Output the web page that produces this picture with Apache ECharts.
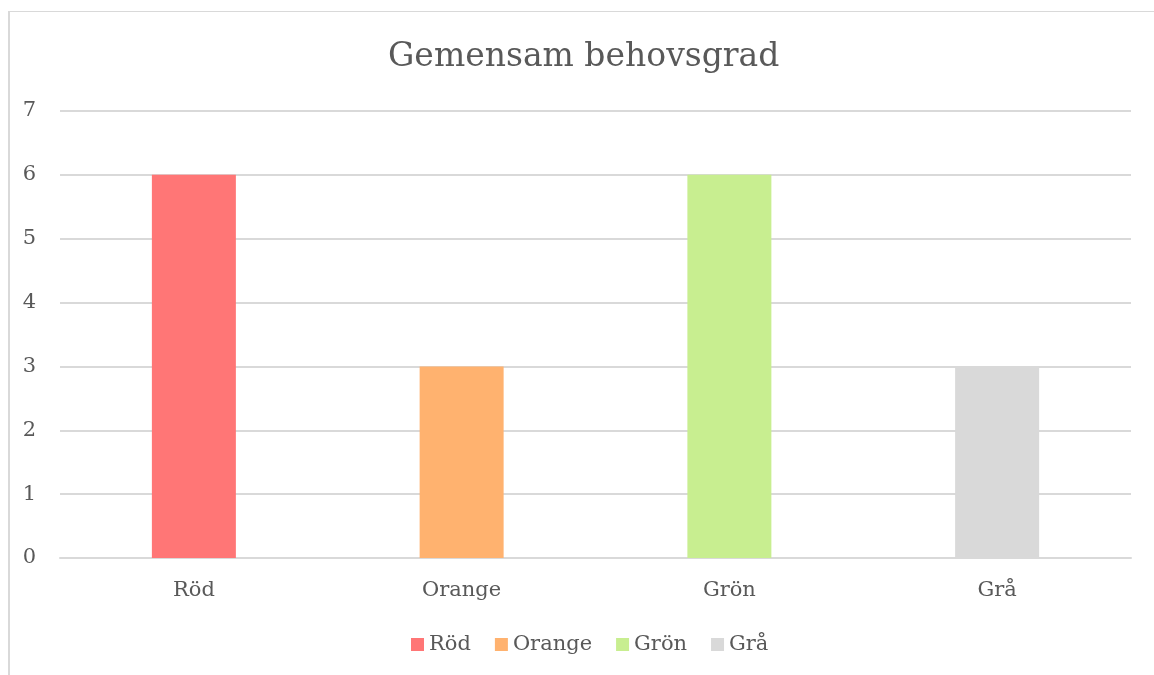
<!DOCTYPE html>
<html>
<head>
<meta charset="utf-8">
<script src="https://cdn.jsdelivr.net/npm/echarts@6/dist/echarts.min.js"></script>
<style>
  html, body { margin: 0; padding: 0; background: #fff; }
  .frame {
    position: absolute;
    left: 8px;
    top: 11px;
    width: 1200px;
    height: 700px;
    border-left: 2px solid #d9d9d9;
    border-top: 1px solid #d9d9d9;
  }
  #chart { position: absolute; left: 0; top: 0; width: 1154px; height: 675px; }
</style>
</head>
<body>
<div class="frame"></div>
<div id="chart"></div>
<script>
// 数据
const categories = ['Röd', 'Orange', 'Grön', 'Grå']
const values = [6, 3, 6, 3]
const colors = ['#ff7676', '#ffb26f', '#c8ee90', '#d9d9d9']
const yTicks = [0, 7, 1] // min, max, interval

const FONT = 'DejaVu Serif'
const TEXT = '#595959'

const myChart = echarts.init(document.getElementById('chart'))

// 每个类别一个系列，堆叠后对齐到自己的位置
const series = categories.map((name, i) => ({
  name,
  type: 'bar',
  stack: 'all',
  barWidth: 84,
  itemStyle: { color: colors[i] },
  data: categories.map((c, j) => (j === i ? values[i] : null)),
}))

const option = {
  animation: false,
  title: {
    text: 'Gemensam behovsgrad',
    left: 383,
    top: 36,
    textStyle: {
      fontFamily: FONT,
      fontSize: 33,
      fontWeight: 'normal',
      color: TEXT,
    },
  },
  grid: {
    left: 60,
    right: 23,
    top: 111,
    bottom: 117,
  },
  legend: {
    bottom: 15,
    left: 406,
    icon: 'rect',
    itemWidth: 13,
    itemHeight: 13,
    itemGap: 24,
    textStyle: { fontFamily: FONT, fontSize: 21, color: TEXT },
    data: categories,
  },
  xAxis: {
    type: 'category',
    data: categories,
    axisTick: { show: false },
    axisLine: { lineStyle: { color: '#d9d9d9', width: 2 } },
    axisLabel: { fontFamily: FONT, fontSize: 21, color: TEXT, margin: 22 },
  },
  yAxis: {
    type: 'value',
    min: yTicks[0],
    max: yTicks[1],
    interval: yTicks[2],
    axisLine: { show: false },
    axisTick: { show: false },
    splitLine: { lineStyle: { color: '#d9d9d9', width: 2 } },
    axisLabel: { fontFamily: FONT, fontSize: 21, color: TEXT, margin: 24 },
  },
  series,
}

myChart.setOption(option)
</script>
</body>
</html>
